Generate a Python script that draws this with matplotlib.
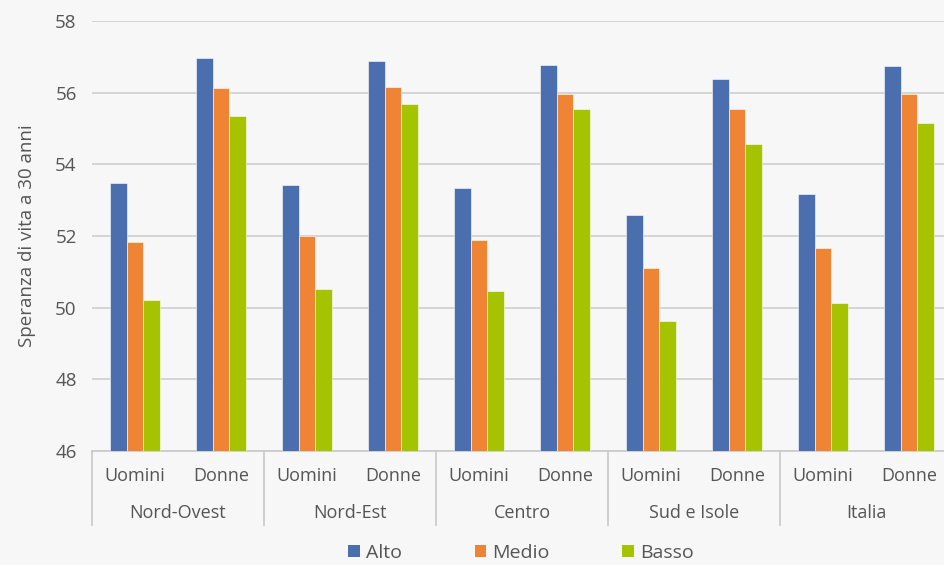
import numpy as np
import matplotlib.pyplot as plt
from matplotlib.patches import Patch

regions = ['Nord-Ovest', 'Nord-Est', 'Centro', 'Sud e Isole', 'Italia']
sexes = ['Uomini', 'Donne']
series = ['Alto', 'Medio', 'Basso']
colors = ['#4b6eaf', '#ef8435', '#a6c300']

# values per (region, sex) in order
alto = [53.47, 56.97, 53.43, 56.87, 53.35, 56.78, 52.59, 56.38, 53.18, 56.74]
medio = [51.82, 56.13, 52.01, 56.17, 51.89, 55.95, 51.11, 55.54, 51.66, 55.97]
basso = [50.22, 55.35, 50.53, 55.69, 50.47, 55.54, 49.63, 54.58, 50.13, 55.15]

plt.rcParams['font.family'] = ['Open Sans', 'DejaVu Sans']
bg = '#f7f7f7'
txt = '#555555'

fig = plt.figure(figsize=(9.44, 5.65), dpi=100, facecolor=bg)
ax = fig.add_axes([92 / 944, 1 - 451 / 565, 860 / 944, 430 / 565])
ax.set_facecolor(bg)

n = len(alto)
x = np.arange(n)
w = 0.195
for i, (vals, c) in enumerate(zip([alto, medio, basso], colors)):
    ax.bar(x + (i - 1) * w, np.array(vals) - 46, w, bottom=46, color=c,
           edgecolor='white', linewidth=0.4, zorder=3)

ax.set_xlim(-0.5, n - 0.5)
ax.set_ylim(46, 58)
ax.set_yticks(np.arange(46, 59, 2))
ax.yaxis.grid(True, color='#d2d2d2', linewidth=1.3, zorder=0)
ax.tick_params(axis='y', length=0, pad=11, labelsize=13.5, labelcolor=txt)
ax.set_xticks([])
for s in ['top', 'right', 'left']:
    ax.spines[s].set_visible(False)
ax.spines['bottom'].set_color('#cccccc')
ax.spines['bottom'].set_linewidth(1.3)

ax.set_ylabel('Speranza di vita a 30 anni', fontsize=13.5, color=txt, labelpad=14)

# multi-level category axis
trans = ax.get_xaxis_transform()
for k in range(n):
    ax.text(k, -25 / 430, sexes[k % 2], transform=trans, ha='center', va='center',
            fontsize=13, color=txt, clip_on=False)
for j, r in enumerate(regions):
    ax.text(2 * j + 0.5, -62 / 430, r, transform=trans, ha='center', va='center',
            fontsize=13, color=txt, clip_on=False)
for j in range(len(regions) + 1):
    ax.plot([2 * j - 0.5, 2 * j - 0.5], [0, -74 / 430], transform=trans,
            color='#cccccc', linewidth=1.3, clip_on=False)

handles = [Patch(facecolor=c, label=s) for s, c in zip(series, colors)]
fig.legend(handles=handles, loc='center', bbox_to_anchor=(521 / 944, 0.022),
           ncol=3, frameon=False, fontsize=14, labelcolor=txt,
           handlelength=0.6, handleheight=0.6, handletextpad=0.3,
           columnspacing=3.75, borderpad=0.1)

fig.savefig('out.png', dpi=100, facecolor=bg)
